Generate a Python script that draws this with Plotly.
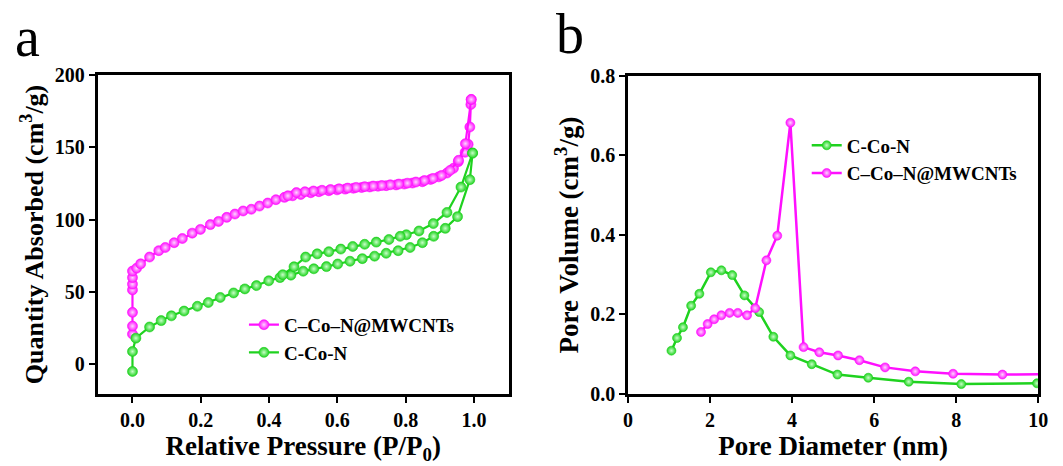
import plotly.graph_objects as go

# ---- (a) N2 adsorption/desorption isotherms ----
p_mw_ads = [0.0, 0.0, 0.0, 0.0, 0.0, 0.0, 0.0, 0.012, 0.024, 0.050, 0.077, 0.096, 0.122,
            0.146, 0.175, 0.199, 0.228, 0.252, 0.276, 0.300, 0.324, 0.348, 0.372,
            0.396, 0.420, 0.445, 0.469, 0.493, 0.522, 0.546, 0.575, 0.599, 0.623,
            0.647, 0.671, 0.695, 0.719, 0.743, 0.772, 0.796, 0.820, 0.849, 0.873,
            0.897, 0.921, 0.940, 0.954, 0.974, 0.983, 0.988, 0.991, 0.992]
v_mw_ads = [21.0, 26.5, 36.0, 51.5, 55.5, 60.0, 64.5, 66.5, 69.5, 74.2, 78.6, 80.8, 84.1,
            87.0, 90.7, 93.3, 96.6, 98.8, 101.6, 103.9, 106.0, 107.2, 109.4,
            111.5, 113.8, 115.4, 116.5, 117.4, 118.6, 119.3, 120.0, 120.6, 121.1,
            121.7, 122.2, 122.6, 123.1, 123.5, 124.0, 124.6, 125.3, 126.2, 127.8,
            129.6, 132.2, 135.5, 140.0, 146.5, 152.0, 164.0, 179.5, 183.0]
p_mw_des = [0.992, 0.975, 0.955, 0.930, 0.905, 0.880, 0.855, 0.830, 0.805, 0.780,
            0.755, 0.730, 0.705, 0.680, 0.655, 0.630, 0.605, 0.580, 0.555, 0.530,
            0.505, 0.480, 0.455]
v_mw_des = [183.0, 152.5, 141.0, 134.0, 130.5, 128.5, 127.0, 126.0, 125.2, 124.6,
            124.1, 123.6, 123.2, 122.8, 122.3, 121.8, 121.3, 120.8, 120.3, 119.8,
            119.3, 118.7, 116.5]

p_cn_ads = [0.0, 0.0, 0.010, 0.050, 0.084, 0.114, 0.151, 0.190, 0.222, 0.257, 0.296,
            0.329, 0.363, 0.399, 0.432, 0.464, 0.500, 0.531, 0.568, 0.601, 0.637,
            0.673, 0.709, 0.743, 0.778, 0.813, 0.849, 0.882, 0.916, 0.952, 0.988, 0.996]
v_cn_ads = [-4.8, 9.0, 18.2, 25.9, 30.3, 33.6, 36.9, 40.2, 42.8, 46.3, 49.4,
            52.2, 54.5, 57.8, 60.0, 61.7, 64.4, 66.1, 67.6, 69.4, 71.3,
            73.1, 74.8, 76.8, 78.6, 80.8, 84.1, 88.5, 94.0, 102.1, 127.6, 146.0]
p_cn_des = [0.996, 0.962, 0.921, 0.881, 0.839, 0.802, 0.784, 0.751, 0.714, 0.680,
            0.645, 0.610, 0.575, 0.541, 0.507, 0.473, 0.440]
v_cn_des = [146.0, 122.5, 105.0, 97.3, 92.2, 89.6, 88.5, 86.3, 84.5, 83.0,
            81.5, 79.7, 77.9, 76.4, 74.2, 67.5, 62.0]

# ---- (b) pore size distributions ----
d_cn = [1.058, 1.194, 1.339, 1.538, 1.739, 2.019, 2.276, 2.540, 2.837, 3.197,
        3.542, 3.958, 4.479, 5.104, 5.857, 6.843, 8.125, 9.970]
pv_cn = [0.109, 0.141, 0.168, 0.222, 0.252, 0.306, 0.311, 0.299, 0.248, 0.206,
         0.144, 0.097, 0.075, 0.049, 0.041, 0.031, 0.025, 0.027]
d_mw = [1.779, 1.940, 2.099, 2.276, 2.476, 2.676, 2.901, 3.101, 3.373, 3.638,
        3.958, 4.279, 4.663, 5.120, 5.641, 6.266, 7.003, 7.925, 9.127, 10.40]
pv_mw = [0.156, 0.176, 0.188, 0.198, 0.204, 0.204, 0.198, 0.216, 0.336, 0.398,
         0.682, 0.118, 0.105, 0.097, 0.085, 0.067, 0.057, 0.051, 0.049, 0.050]

MAGENTA = "#ff10ff"
GREEN = "#1fd21f"
FONT = "Liberation Serif"


def series(x, y, color, name, xa, ya, legend, show, size=10, lw=2.2, hi="#ffd6ff"):
    return go.Scatter(
        x=x, y=y, mode="lines+markers", name=name, xaxis=xa, yaxis=ya,
        legend=legend, showlegend=show, cliponaxis=True,
        line=dict(color=color, width=lw),
        marker=dict(size=size, color=color,
                    gradient=dict(type="radial", color=hi),
                    line=dict(width=0.6, color=color)),
    )


fig = go.Figure()
fig.add_trace(series(p_mw_ads, v_mw_ads, MAGENTA, "C–Co–N@MWCNTs", "x", "y", "legend", True))
fig.add_trace(series(p_mw_des, v_mw_des, MAGENTA, "C–Co–N@MWCNTs", "x", "y", "legend", False))
fig.add_trace(series(p_cn_ads, v_cn_ads, GREEN, "C-Co-N", "x", "y", "legend", True, hi="#c8ffc8"))
fig.add_trace(series(p_cn_des, v_cn_des, GREEN, "C-Co-N", "x", "y", "legend", False, hi="#c8ffc8"))

fig.add_trace(series(d_cn, pv_cn, GREEN, "C-Co-N", "x2", "y2", "legend2", True, size=9, lw=2.5, hi="#c8ffc8"))
fig.add_trace(series(d_mw, pv_mw, MAGENTA, "C–Co–N@MWCNTs", "x2", "y2", "legend2", True, size=9, lw=2.5))

axis_common = dict(
    showline=True, linecolor="black", linewidth=2.8, mirror=True,
    ticks="outside", ticklen=6, tickwidth=2.2, tickcolor="black",
    showgrid=False, zeroline=False,
    tickfont=dict(family=FONT, size=20, color="black", weight="bold"),
)
title_font = dict(family=FONT, size=27, color="black", weight="bold")

fig.update_layout(
    width=1063, height=466,
    margin=dict(l=0, r=0, t=0, b=0),
    paper_bgcolor="white", plot_bgcolor="white",
    font=dict(family=FONT, color="black", weight="bold"),
    xaxis=dict(domain=[0.0884, 0.4807], range=[-0.102, 1.102],
               tickvals=[0, 0.2, 0.4, 0.6, 0.8, 1.0],
               ticktext=["0.0", "0.2", "0.4", "0.6", "0.8", "1.0"],
               title=dict(text="Relative Pressure (P/P<sub>0</sub>)", standoff=2,
                          font=title_font),
               anchor="y", **axis_common),
    yaxis=dict(domain=[0.1373, 0.8562], range=[-20.4, 200],
               tickvals=[0, 50, 100, 150, 200],
               title=dict(text="Quantity Absorbed (cm<sup>3</sup>/g)", standoff=4,
                          font=dict(title_font, size=26)),
               anchor="x", **axis_common),
    xaxis2=dict(domain=[0.5945, 0.9859], range=[0, 10],
                tickvals=[0, 2, 4, 6, 8, 10],
                title=dict(text="Pore Diameter (nm)", standoff=2, font=title_font),
                anchor="y2", **axis_common),
    yaxis2=dict(domain=[0.1373, 0.8541], range=[0, 0.8],
                tickvals=[0, 0.2, 0.4, 0.6, 0.8],
                ticktext=["0.0", "0.2", "0.4", "0.6", "0.8"],
                title=dict(text="Pore Volume (cm<sup>3</sup>/g)", standoff=4,
                           font=title_font),
                anchor="x2", **axis_common),
    legend=dict(x=0.228, y=0.336, xanchor="left", yanchor="top",
                bgcolor="rgba(0,0,0,0)", tracegroupgap=0,
                font=dict(family=FONT, size=19, color="black", weight="bold")),
    legend2=dict(x=0.765, y=0.740, xanchor="left", yanchor="top",
                 bgcolor="rgba(0,0,0,0)", tracegroupgap=0,
                 font=dict(family=FONT, size=19, color="black", weight="bold")),
    annotations=[
        dict(text="a", x=0.009, y=1.014, xref="paper", yref="paper",
             xanchor="left", yanchor="top", showarrow=False, borderpad=0,
             font=dict(family=FONT, size=56, color="black", weight="normal")),
        dict(text="b", x=0.525, y=1.02, xref="paper", yref="paper",
             xanchor="left", yanchor="top", showarrow=False, borderpad=0,
             font=dict(family=FONT, size=56, color="black", weight="normal")),
    ],
)

fig.write_html("out.html")
